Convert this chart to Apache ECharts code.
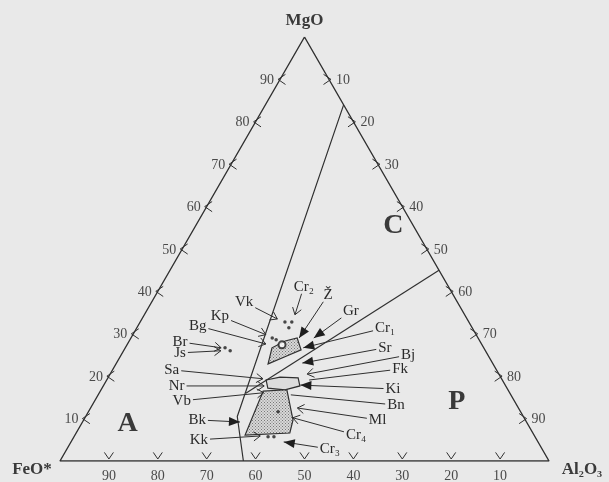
<!DOCTYPE html>
<html>
<head>
<meta charset="utf-8">
<script src="https://cdn.jsdelivr.net/npm/echarts@6/dist/echarts.min.js"></script>
<style>
html, body { margin: 0; padding: 0; background: #e9e9e9; }
#chart { width: 609px; height: 482px; }
</style>
</head>
<body>
<div id="chart"></div>
<script>
// every composition is [MgO, FeO*, Al2O3] in %
const tickValues = [10, 20, 30, 40, 50, 60, 70, 80, 90]

const boundaryAC = [[84, 0, 16], [10.5, 58.5, 31], [0, 62.5, 37.5]]
const boundaryCP = [[45, 0, 55], [16, 54, 30]]

const fieldNames = ['A', 'C', 'P']
const fieldPos = [[8.7, 81.8, 9.5], [55.5, 4.1, 40.4], [13.9, 11.9, 74.2]]

const areaUpper = [[22.9, 46.0, 31.1], [26.7, 43.3, 30.0], [28.3, 39.8, 31.9], [29.0, 37.0, 34.0], [26.2, 37.6, 36.2], [24.6, 41.7, 33.7]]
const areaMiddle = [[19.1, 48.3, 32.6], [19.8, 45.1, 35.1], [19.6, 41.5, 38.9], [17.7, 42.1, 40.2], [16.8, 45.6, 37.6], [17.2, 48.9, 33.9]]
const areaLower = [[16.5, 50.2, 33.3], [16.8, 45.2, 38.0], [9.7, 47.5, 42.8], [6.6, 49.7, 43.7], [6.1, 59.1, 34.8]]

const dots = [
  [32.8, 37.6, 29.6], [32.8, 36.2, 31.0], [31.4, 37.5, 31.1],
  [29.0, 42.1, 28.9], [28.6, 41.5, 29.9],
  [26.7, 52.9, 20.4], [26.0, 52.2, 21.8],
  [5.7, 54.6, 39.7], [5.7, 53.4, 40.9],
  [11.6, 49.6, 38.8]
]
const ringPoint = [27.4, 40.9, 31.7]

const labelNames = ['Vk', 'Cr₂', 'Ž', 'Gr', 'Kp', 'Bg', 'Br', 'Js', 'Sa', 'Nr', 'Vb', 'Bk', 'Kk',
  'Cr₁', 'Sr', 'Bj', 'Fk', 'Ki', 'Bn', 'Ml', 'Cr₄', 'Cr₃']
const labelPos = [
  [37.5, 43.6, 18.9], [41.1, 29.6, 29.3], [39.2, 25.6, 35.2], [35.4, 22.8, 41.8],
  [34.2, 50.2, 15.6], [31.9, 55.9, 12.2], [28.1, 61.4, 10.5], [25.5, 62.7, 11.8],
  [21.5, 66.4, 12.1], [17.7, 67.3, 15.0], [14.2, 68.0, 17.8], [9.7, 67.1, 23.2],
  [5.0, 69.1, 25.9], [31.4, 17.8, 50.8], [26.7, 20.2, 53.1], [25.0, 16.3, 58.7],
  [21.7, 19.6, 58.7], [17.0, 23.4, 59.6], [13.2, 24.7, 62.1], [9.7, 30.2, 60.1],
  [6.1, 36.4, 57.5], [2.8, 43.4, 53.8]
]
const arrowTip = [
  [33.5, 38.8, 27.7], [34.5, 34.7, 30.8], [29.0, 36.6, 34.4], [29.0, 33.6, 37.4],
  [29.8, 43.0, 27.2], [27.6, 44.1, 28.3], [26.7, 53.7, 19.6], [26.0, 54.1, 19.9],
  [19.4, 48.8, 31.8], [17.7, 49.4, 32.9], [16.1, 50.3, 33.6], [9.2, 58.6, 32.2],
  [5.9, 56.1, 38.0], [26.7, 36.9, 36.4], [23.1, 38.9, 38.0], [20.5, 39.2, 40.3],
  [19.1, 39.5, 41.4], [17.9, 41.9, 40.2], [15.6, 45.0, 39.4], [12.5, 45.2, 42.3],
  [10.2, 47.3, 42.5], [4.5, 52.0, 43.5]
]
const arrowHead = ['open', 'open', 'solid', 'solid', 'open', 'open', 'open', 'open', 'open', 'open', 'open', 'solid',
  'open', 'solid', 'solid', 'open', 'none', 'solid', 'none', 'open', 'open', 'solid']

const S3 = Math.sqrt(3) / 2
const toXY = (c) => [c[2] + c[0] / 2, c[0] * S3]

const ink = '#303030'
const serif = "'Liberation Serif', 'Times New Roman', serif"

const measure = document.createElement('canvas').getContext('2d')
const textWidth = (t, font) => { measure.font = font; return measure.measureText(t).width }

// stipple fill for the shaded fields
const dotCanvas = document.createElement('canvas')
dotCanvas.width = 3
dotCanvas.height = 3
const dctx = dotCanvas.getContext('2d')
dctx.fillStyle = '#d8d8d8'
dctx.fillRect(0, 0, 3, 3)
dctx.fillStyle = '#777'
dctx.fillRect(0, 0, 1, 1)
dctx.fillRect(1.5, 1.5, 1, 1)

const segment = (a, b, w) => ({
  type: 'line', shape: { x1: a[0], y1: a[1], x2: b[0], y2: b[1] },
  style: { stroke: ink, lineWidth: w || 1 }
})

const chevron = (p, ang, len) => {
  const a1 = ang + 0.6, a2 = ang - 0.6
  return {
    type: 'polyline',
    shape: { points: [[p[0] + len * Math.cos(a1), p[1] + len * Math.sin(a1)], p, [p[0] + len * Math.cos(a2), p[1] + len * Math.sin(a2)]] },
    style: { stroke: ink, lineWidth: 1, fill: null }
  }
}

const tickFont = '14px ' + serif
const renderTicks = (params, api) => {
  const v = tickValues[params.dataIndex]
  const pL = api.coord(toXY([v, 100 - v, 0]))
  const pR = api.coord(toXY([100 - v, 0, v]))
  const pB = api.coord(toXY([0, v, 100 - v]))
  const lab = (t, x, y, align) => ({
    type: 'text', x: x, y: y,
    style: { text: t, font: tickFont, fill: '#4a4a4a', align: align, verticalAlign: 'middle' }
  })
  return {
    type: 'group',
    children: [
      chevron([pL[0] - 2, pL[1]], 0, 9),
      chevron([pR[0] + 2, pR[1]], Math.PI, 9),
      chevron([pB[0], pB[1] - 2], -Math.PI / 2, 8),
      lab(String(v), pL[0] - 6, pL[1] + 1, 'right'),
      lab(String(v), pR[0] + 7, pR[1] + 1, 'left'),
      lab(String(v), pB[0], pB[1] + 15, 'center')
    ]
  }
}

const areas = [areaUpper, areaMiddle, areaLower]
const renderAreas = (params, api) => {
  const pts = areas[params.dataIndex].map((c) => api.coord(toXY(c)))
  const mid = params.dataIndex === 1
  return {
    type: 'polygon',
    shape: { points: pts },
    style: {
      fill: mid ? '#dcdcdc' : { image: dotCanvas, repeat: 'repeat' },
      stroke: ink, lineWidth: 1.2
    }
  }
}

const labFont = '15px ' + serif
const renderLabels = (params, api) => {
  const i = params.dataIndex
  const c = api.coord(toXY(labelPos[i]))
  const t = api.coord(toXY(arrowTip[i]))
  const hw = textWidth(labelNames[i], labFont) / 2 + 2
  const hh = 7
  const dx = t[0] - c[0], dy = t[1] - c[1]
  const s = Math.min(hw / Math.abs(dx || 1e-6), hh / Math.abs(dy || 1e-6))
  const start = [c[0] + dx * s, c[1] + dy * s]
  const ang = Math.atan2(-dy, -dx)
  const kids = [segment(start, t, 1)]
  if (arrowHead[i] === 'open') {
    kids.push(chevron(t, ang, 8))
  } else if (arrowHead[i] === 'solid') {
    const L = 11, W = 4.5
    const bx = t[0] + L * Math.cos(ang), by = t[1] + L * Math.sin(ang)
    const nx = -Math.sin(ang) * W, ny = Math.cos(ang) * W
    kids.push({
      type: 'polygon',
      shape: { points: [t, [bx + nx, by + ny], [bx - nx, by - ny]] },
      style: { fill: '#1e1e1e' }
    })
  }
  kids.push({
    type: 'text', x: c[0], y: c[1],
    style: { text: labelNames[i], font: labFont, fill: '#2a2a2a', align: 'center', verticalAlign: 'middle' }
  })
  return { type: 'group', children: kids }
}

const renderFields = (params, api) => {
  const p = api.coord(toXY(fieldPos[params.dataIndex]))
  return {
    type: 'text', x: p[0], y: p[1],
    style: { text: fieldNames[params.dataIndex], font: 'bold 28px ' + serif, fill: '#3a3a3a', align: 'center', verticalAlign: 'middle' }
  }
}

const corners = [[100, 0, 0], [0, 100, 0], [0, 0, 100]]
const cornerNames = ['MgO', 'FeO*', 'Al₂O₃']
const renderCorners = (params, api) => {
  const i = params.dataIndex
  const p = api.coord(toXY(corners[i]))
  const off = [[0, -16], [-28, 9], [33, 9]][i]
  return {
    type: 'text', x: p[0] + off[0], y: p[1] + off[1],
    style: { text: cornerNames[i], font: 'bold 17px ' + serif, fill: '#3a3a3a', align: 'center', verticalAlign: 'middle' }
  }
}

const frame = [corners[0], corners[1], corners[2], corners[0]].map(toXY)

const chart = echarts.init(document.getElementById('chart'))
chart.setOption({
  backgroundColor: '#e9e9e9',
  animation: false,
  grid: { left: 60, right: 60, top: 37, bottom: 21 },
  xAxis: { type: 'value', min: 0, max: 100, show: false },
  yAxis: { type: 'value', min: 0, max: 100 * S3, show: false },
  series: [
    { type: 'custom', renderItem: renderAreas, data: [0, 1, 2], z: 2 },
    {
      type: 'line', data: frame, symbol: 'none', z: 3,
      lineStyle: { color: ink, width: 1.4 }
    },
    {
      type: 'line', data: boundaryAC.map(toXY), symbol: 'none', z: 3,
      lineStyle: { color: ink, width: 1.2 }
    },
    {
      type: 'line', data: boundaryCP.map(toXY), symbol: 'none', z: 3,
      lineStyle: { color: ink, width: 1.2 }
    },
    { type: 'custom', renderItem: renderTicks, data: tickValues, z: 4 },
    {
      type: 'scatter', data: dots.map(toXY), symbolSize: 3.5, z: 5,
      itemStyle: { color: '#1e1e1e' }
    },
    {
      type: 'scatter', data: [toXY(ringPoint)], symbol: 'emptyCircle', symbolSize: 7, z: 5,
      itemStyle: { color: '#1e1e1e', borderWidth: 1 }
    },
    { type: 'custom', renderItem: renderLabels, data: labelNames.map((n, i) => i), z: 6 },
    { type: 'custom', renderItem: renderFields, data: [0, 1, 2], z: 6 },
    { type: 'custom', renderItem: renderCorners, data: [0, 1, 2], z: 6 }
  ]
})
</script>
</body>
</html>
